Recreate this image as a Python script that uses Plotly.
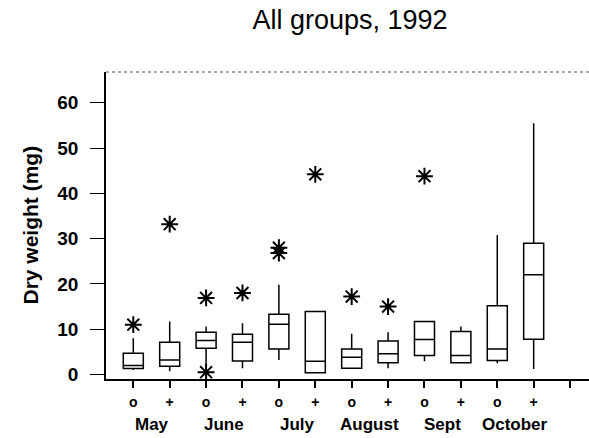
import plotly.graph_objects as go

# Data
positions = [1, 2, 3, 4, 5, 6, 7, 8, 9, 10, 11, 12]
group_labels = ["o", "+", "o", "+", "o", "+", "o", "+", "o", "+", "o", "+"]
months = ["May", "June", "July", "August", "Sept", "October"]
month_pos = [1.5, 3.5, 5.5, 7.5, 9.5, 11.5]

q1 = [1.3, 1.8, 5.8, 3.0, 5.6, 0.4, 1.4, 2.6, 4.2, 2.6, 3.1, 7.8]
median = [2.0, 3.2, 7.5, 7.1, 11.1, 2.9, 3.8, 4.6, 7.7, 4.2, 5.6, 22.0]
q3 = [4.7, 7.1, 9.3, 8.9, 13.3, 13.9, 5.6, 7.4, 11.7, 9.5, 15.2, 29.0]
lower = [1.0, 0.7, 0.5, 1.4, 3.2, 0.4, 1.4, 1.4, 2.9, 2.6, 2.5, 1.2]
upper = [8.0, 11.7, 10.6, 11.3, 19.8, 13.9, 9.0, 9.3, 11.7, 10.6, 30.8, 55.5]

out_x = [1, 2, 3, 3, 4, 5, 5, 6, 7, 8, 9]
out_y = [11.0, 33.2, 16.9, 0.5, 18.0, 28.0, 26.8, 44.2, 17.2, 15.0, 43.8]

FONT = "Liberation Sans"

fig = go.Figure()
fig.add_trace(go.Box(
    x=positions, q1=q1, median=median, q3=q3,
    lowerfence=lower, upperfence=upper,
    width=0.55, whiskerwidth=0,
    line=dict(color="black", width=1.5),
    fillcolor="white", boxpoints=False, showlegend=False,
))
fig.add_trace(go.Scatter(
    x=out_x, y=out_y, mode="markers",
    marker=dict(symbol="asterisk-open", size=14, color="black",
                line=dict(color="black", width=2)),
    showlegend=False,
))

tickvals = positions + [13]
ticktext = group_labels + [""]

fig.update_layout(
    width=589, height=438,
    margin=dict(l=106, r=0, t=72, b=59),
    paper_bgcolor="white", plot_bgcolor="white",
    title=dict(text="All groups, 1992", font=dict(family=FONT, size=27, color="black"),
               xref="container", yref="container", x=350 / 589, xanchor="center",
               y=1 - 20 / 438, yanchor="middle"),
    xaxis=dict(range=[0.25, 13.52], tickvals=tickvals, ticktext=ticktext,
               showgrid=False, zeroline=False, showline=True, linecolor="black",
               linewidth=1.5, ticks="outside", ticklen=7, tickwidth=1.5,
               tickcolor="black", ticklabelstandoff=2,
               tickfont=dict(family=FONT, size=14, color="black", weight="bold")),
    yaxis=dict(range=[-1.0, 66.8], tickvals=[0, 10, 20, 30, 40, 50, 60],
               showgrid=False, zeroline=False, showline=True, linecolor="black",
               linewidth=1.5, ticks="outside", ticklen=14, tickwidth=1,
               tickcolor="black", ticklabelstandoff=8,
               tickfont=dict(family=FONT, size=19, color="black", weight="bold")),
    shapes=[dict(type="line", xref="paper", yref="paper", x0=0, x1=1, y0=1, y1=1,
                 line=dict(color="#555555", width=1, dash="dot"))],
)

for m, p in zip(months, month_pos):
    fig.add_annotation(x=p, y=(379 - 424) / 307, xref="x", yref="paper",
                       text=m, showarrow=False, xanchor="center", yanchor="middle",
                       font=dict(family=FONT, size=17, color="black", weight="bold"))

fig.add_annotation(x=(30 - 106) / 483, y=0.5, xref="paper", yref="paper",
                   text="Dry weight (mg)", textangle=-90, showarrow=False,
                   xanchor="center", yanchor="middle",
                   font=dict(family=FONT, size=21, color="black", weight="bold"))

fig.write_html("out.html", config={"displayModeBar": False},
               post_script="document.body.style.margin='0';document.body.style.padding='0';")
